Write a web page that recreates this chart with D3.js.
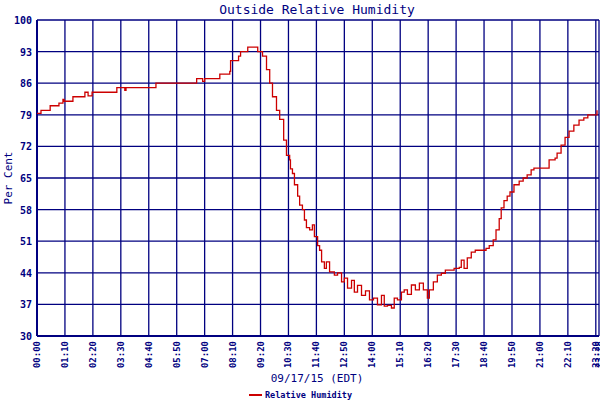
<!DOCTYPE html>
<html>
<head>
<meta charset="utf-8">
<script src="https://cdn.jsdelivr.net/npm/d3@7"></script>
<style>
  body { margin: 0; background: #fff; }
  text { font-family: "DejaVu Sans Mono", monospace; fill: #000080; }
</style>
</head>
<body>
<svg id="chart" width="600" height="400"></svg>
<script>
// minutes since midnight, relative humidity (%)
const minutes = [0, 10, 33, 55, 65, 68, 90, 120, 128, 138, 200, 220, 223, 298, 400, 415, 420, 458, 483, 485,
  505, 510, 528, 550, 553, 565, 575, 583, 590, 600, 608, 618, 625, 633, 635, 640, 645, 653, 658, 665,
  670, 675, 683, 690, 695, 703, 708, 713, 720, 725, 733, 745, 753, 763, 770, 778, 788, 795, 803, 813,
  823, 833, 843, 853, 863, 870, 878, 888, 895, 903, 913, 920, 928, 938, 948, 958, 968, 978, 983, 993,
  1003, 1013, 1023, 1033, 1045, 1058, 1063, 1070, 1078, 1088, 1098, 1108, 1125, 1133, 1143, 1150, 1158, 1163, 1170, 1178,
  1185, 1195, 1208, 1218, 1228, 1238, 1245, 1278, 1283, 1298, 1303, 1313, 1323, 1333, 1345, 1358, 1370, 1380, 1398, 1403];
const humidity = [79.3, 80, 81, 81.6, 82.4, 82, 83, 84, 83.2, 84, 85, 84.4, 85, 86, 87, 86.4, 87, 88, 88.6, 91,
  92, 93, 94, 94, 93, 92, 89, 86, 83, 80, 78, 73.4, 70, 69, 67, 66, 63.5, 61, 59, 58,
  55.7, 54, 53.5, 54.6, 52, 50, 49, 46.4, 45, 46.4, 44.2, 43.5, 44, 42, 42.8, 40.6, 42.3, 39.7, 41.2, 39,
  40, 38, 38.4, 36.9, 39, 36.6, 36.8, 36.2, 38.4, 38, 39.7, 40.2, 39.2, 41.3, 40.2, 41.7, 40.2, 38.4, 40.2, 42,
  43.5, 43.9, 44.6, 44.6, 45, 45.2, 46.8, 45, 47.3, 48.6, 49, 49, 49.4, 50, 51.3, 53.5, 56, 58.4, 60, 61,
  61.9, 63.5, 64.3, 65, 65.7, 66.8, 67.2, 67.2, 69, 69.4, 70.5, 72.3, 74, 75.4, 76.7, 77.8, 78.3, 79, 79, 80];
const yTicks = [30, 37, 44, 51, 58, 65, 72, 79, 86, 93, 100];
const xTicks = d3.range(0, 1401, 70).concat([1408]);

const svg = d3.select("#chart");
const mLeft = 37, mRight = 599, mTop = 20, mBottom = 336;
const x = d3.scaleLinear().domain([0, 1408]).range([mLeft, mRight]);
const y = d3.scaleLinear().domain([30, 100]).range([mBottom, mTop]);
const navy = "#000080";
const fmt = m => String(Math.floor(m / 60)).padStart(2, "0") + ":" + String(m % 60).padStart(2, "0");

// grid
svg.append("g").selectAll("line").data(yTicks).join("line")
  .attr("x1", mLeft).attr("x2", mRight).attr("y1", d => y(d)).attr("y2", d => y(d))
  .attr("stroke", navy).attr("stroke-width", 1.3);
svg.append("g").selectAll("line").data(xTicks).join("line")
  .attr("x1", d => x(d)).attr("x2", d => x(d)).attr("y1", mTop).attr("y2", mBottom)
  .attr("stroke", navy).attr("stroke-width", 1.3);
svg.append("line").attr("x1", mLeft).attr("x2", mLeft).attr("y1", mTop).attr("y2", mBottom)
  .attr("stroke", navy).attr("stroke-width", 2);
svg.append("line").attr("x1", mLeft).attr("x2", mRight).attr("y1", mBottom).attr("y2", mBottom)
  .attr("stroke", navy).attr("stroke-width", 2);

// tick labels
svg.append("g").selectAll("text").data(yTicks).join("text")
  .attr("x", mLeft - 5).attr("y", d => y(d) + 4).attr("text-anchor", "end")
  .attr("font-size", 10).attr("font-weight", "bold").text(d => d);
svg.append("g").selectAll("text").data(xTicks).join("text")
  .attr("transform", d => `translate(${x(d) + 3},${mBottom + 5}) rotate(-90)`)
  .attr("text-anchor", "end").attr("font-size", 9).attr("font-weight", "bold").text(fmt);

// line
const line = d3.line().x(d => x(d[0])).y(d => y(d[1])).curve(d3.curveStepAfter);
svg.append("path").datum(minutes.map((m, i) => [m, humidity[i]]))
  .attr("d", line).attr("fill", "none").attr("stroke", "#cc0000").attr("stroke-width", 1.3);

// titles
svg.append("text").attr("x", 317).attr("y", 14).attr("text-anchor", "middle")
  .attr("font-size", 13).text("Outside Relative Humidity");
svg.append("text").attr("transform", "translate(12,178) rotate(-90)").attr("text-anchor", "middle")
  .attr("font-size", 11).text("Per Cent");
svg.append("text").attr("x", 317).attr("y", 382).attr("text-anchor", "middle")
  .attr("font-size", 11).text("09/17/15 (EDT)");
svg.append("line").attr("x1", 249).attr("x2", 262).attr("y1", 395).attr("y2", 395)
  .attr("stroke", "#cc0000").attr("stroke-width", 2);
svg.append("text").attr("x", 265).attr("y", 398).attr("font-size", 8.5).attr("font-weight", "bold")
  .text("Relative Humidity");
</script>
</body>
</html>
